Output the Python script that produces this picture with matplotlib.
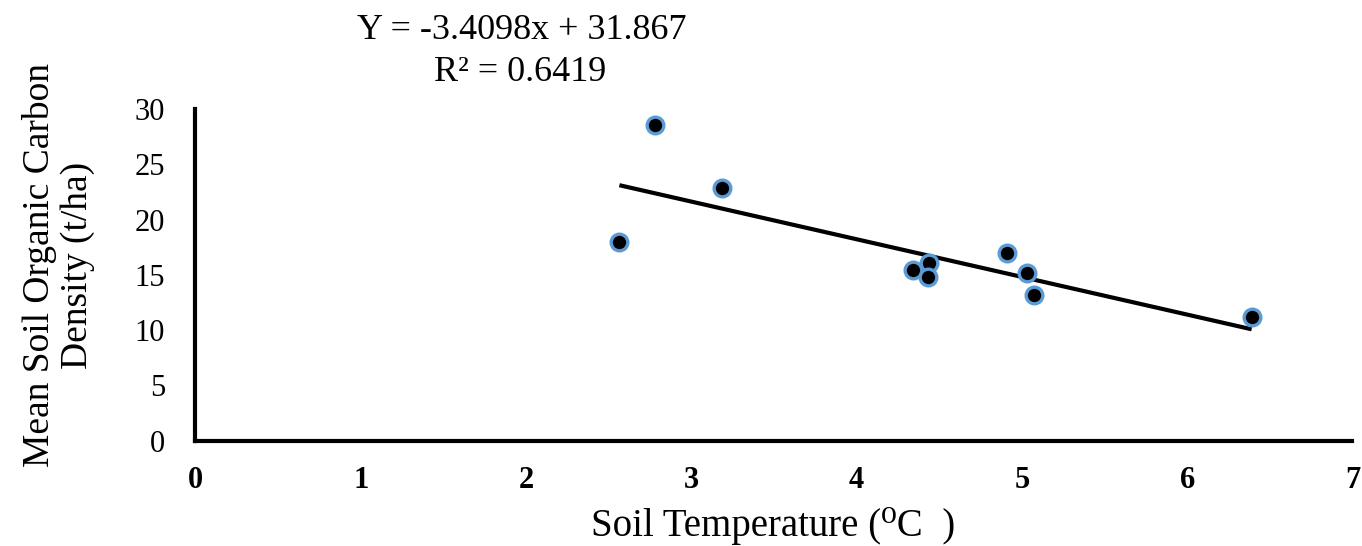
import matplotlib.pyplot as plt
import numpy as np

# valores
temperatura = [2.565, 2.781, 3.186, 4.339, 4.440, 4.430, 4.910, 5.031, 5.076, 6.390]
carbono = [17.94, 28.55, 22.85, 15.45, 16.06, 14.85, 16.94, 15.21, 13.18, 11.18]
coef_a = -3.4098
coef_b = 31.867
r2 = 0.6419
xticks = [0, 1, 2, 3, 4, 5, 6, 7]
yticks = [0, 5, 10, 15, 20, 25, 30]

serif = ['Liberation Serif', 'DejaVu Serif']

fig = plt.figure(figsize=(13.62, 5.46), dpi=100)
ax = fig.add_axes([0.1435, 0.193, 0.8495, 0.607])

# linha de tendência
xs = np.array([min(temperatura), max(temperatura)])
ax.plot(xs, coef_a * xs + coef_b, color='black', linewidth=3, zorder=2,
        solid_capstyle='butt')

ax.plot(temperatura, carbono, linestyle='none', marker='o', markersize=12,
        markerfacecolor='black', markeredgecolor='#5b9bd5', markeredgewidth=2.4,
        zorder=3)

ax.set_xlim(0, 7)
ax.set_ylim(0, 30)
ax.tick_params(length=0)
ax.tick_params(axis='x', pad=18)
ax.tick_params(axis='y', pad=22)
ax.set_xticks(xticks)
ax.set_yticks(yticks)
ax.set_xticklabels([str(t) for t in xticks], family=serif, fontweight='bold', fontsize=22)
ax.set_yticklabels([str(t) for t in yticks], family=serif, fontsize=22)

for lado in ['top', 'right']:
    ax.spines[lado].set_visible(False)
for lado in ['left', 'bottom']:
    ax.spines[lado].set_linewidth(3)
    ax.spines[lado].set_capstyle('projecting')

ax.set_xlabel('Soil Temperature (\u2070C  )', family=serif, fontsize=28)
ax.xaxis.set_label_coords(0.499, -0.2)
ax.set_ylabel('Mean Soil Organic Carbon\nDensity (t/ha)', family=serif, fontsize=27,
              linespacing=1.12)
ax.yaxis.set_label_coords(-0.087, 0.53)

fig.text(0.383, 0.945, f'Y = {coef_a}x + {coef_b}', family=serif, fontsize=26,
         ha='center', va='center')
fig.text(0.382, 0.868, f'R\u00b2 = {r2}', family=serif, fontsize=26,
         ha='center', va='center')

plt.savefig('out.png', dpi=100)
plt.close()
